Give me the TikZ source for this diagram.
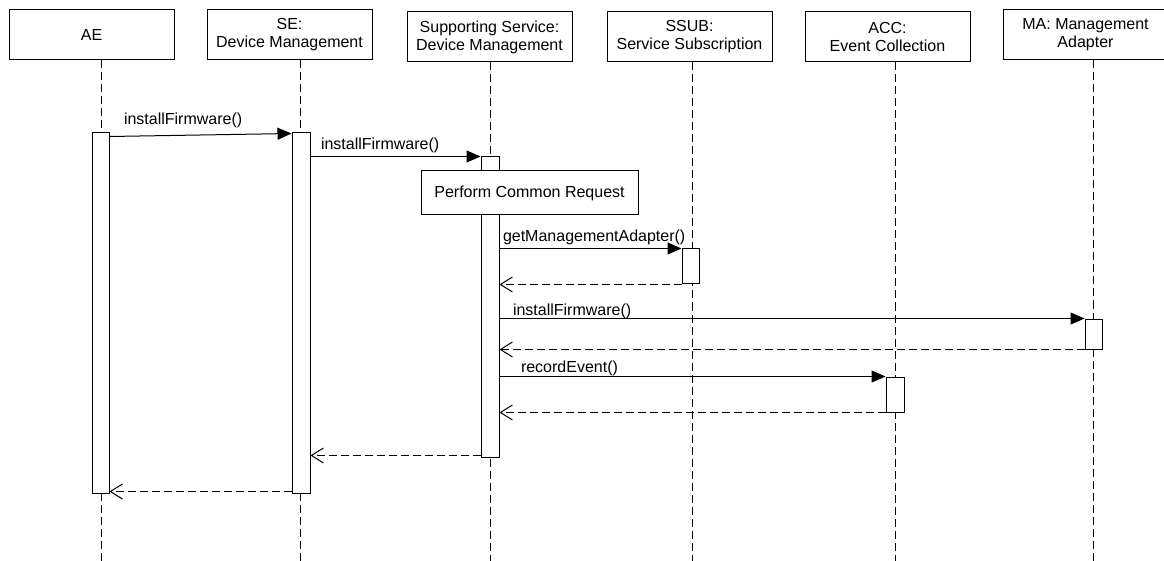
\documentclass[tikz,border=0pt]{standalone}
\usepackage{fontspec}
\setmainfont{Liberation Sans}
\usetikzlibrary{arrows.meta,calc}

\begin{document}
\begin{tikzpicture}[x=1pt, y=-1pt, line width=1pt, font=\fontsize{16}{18}\selectfont,
    head/.style={draw, fill=white, minimum width=165pt, minimum height=50pt, align=center, inner sep=0pt},
    act/.style={draw, fill=white, inner sep=0pt, minimum width=17pt},
    life/.style={dash pattern=on 8pt off 4pt},
    call/.style={-{Triangle[length=14pt, width=12pt]}},
    reply/.style={dash pattern=on 8pt off 4pt, -{Straight Barb[length=12pt, width=15pt]}},
    msg/.style={anchor=south west, inner sep=3pt}]
    \useasboundingbox (0,0) rectangle (1164,561);

    % lifeline heads
    \node[head] (ae) at (91.5,35) {AE};
    \node[head] (se) at (289.5,35) {SE:\\Device Management};
    \node[head] (ss) at (489.5,37) {Supporting Service:\\Device Management};
    \node[head] (ssub) at (689.5,37) {SSUB:\\Service Subscription};
    \node[head] (acc) at (887.5,37) {ACC:\\Event Collection};
    \node[head] (ma) at (1085.5,35) {MA: Management\\Adapter};

    % lifelines
    \coordinate (aeEnd) at (101,561);
    \coordinate (seEnd) at (300,561);
    \coordinate (ssEnd) at (490,561);
    \coordinate (ssubEnd) at (692,561);
    \coordinate (accEnd) at (895,561);
    \coordinate (maEnd) at (1093,561);
    \draw[life] (aeEnd |- ae.south) -- (aeEnd);
    \draw[life] (seEnd |- se.south) -- (seEnd);
    \draw[life] (ssEnd |- ss.south) -- (ssEnd);
    \draw[life] (ssubEnd |- ssub.south) -- (ssubEnd);
    \draw[life] (accEnd |- acc.south) -- (accEnd);
    \draw[life] (maEnd |- ma.south) -- (maEnd);

    % activations
    \node[act, minimum height=360pt] (aeAct) at (100.5,313) {};
    \node[act, minimum width=18pt, minimum height=360pt] (seAct) at (301,313) {};
    \node[act, minimum width=18pt, minimum height=300pt] (ssAct) at (490,307) {};
    \node[act, minimum height=35pt] (ssubAct) at (690.5,266.5) {};
    \node[act, minimum height=30pt] (maAct) at (1093.5,334) {};
    \node[act, minimum width=18pt, minimum height=35pt] (accAct) at (895,394.5) {};
    \node[draw, fill=white, minimum width=217pt, minimum height=44pt] (common) at (529.5,193) {Perform Common Request};

    % messages
    \draw[call] ($(aeAct.north east)+(0,4)$) -- node[msg, at start, xshift=11pt, yshift=5pt] {installFirmware()} ($(seAct.north west)+(0,1)$);
    \draw[call] (seAct.east |- ssAct.north) -- node[msg, at start, xshift=7pt] {installFirmware()} (ssAct.north west);
    \draw[call] (ssAct.east |- ssubAct.north) -- node[msg, at start, xshift=0pt] {getManagementAdapter()} (ssubAct.north west);
    \draw[reply] (ssubAct.south west) -- (ssAct.east |- ssubAct.south);
    \draw[call] (ssAct.east |- maAct.north) -- node[msg, at start, xshift=10pt, yshift=-4pt] {installFirmware()} (maAct.north west);
    \draw[reply] (maAct.south west) -- (ssAct.east |- maAct.south);
    \draw[call] (ssAct.east |- accAct.north) -- node[msg, at start, xshift=18pt, yshift=-3pt] {recordEvent()} (accAct.north west);
    \draw[reply] (accAct.south west) -- (ssAct.east |- accAct.south);
    \draw[reply] ($(ssAct.south west)+(0,-2)$) -- ($(seAct.east |- ssAct.south)+(0,-2)$);
    \draw[reply] ($(seAct.south west)+(0,-2)$) -- ($(aeAct.south east)+(0,-2)$);
\end{tikzpicture}
\end{document}
